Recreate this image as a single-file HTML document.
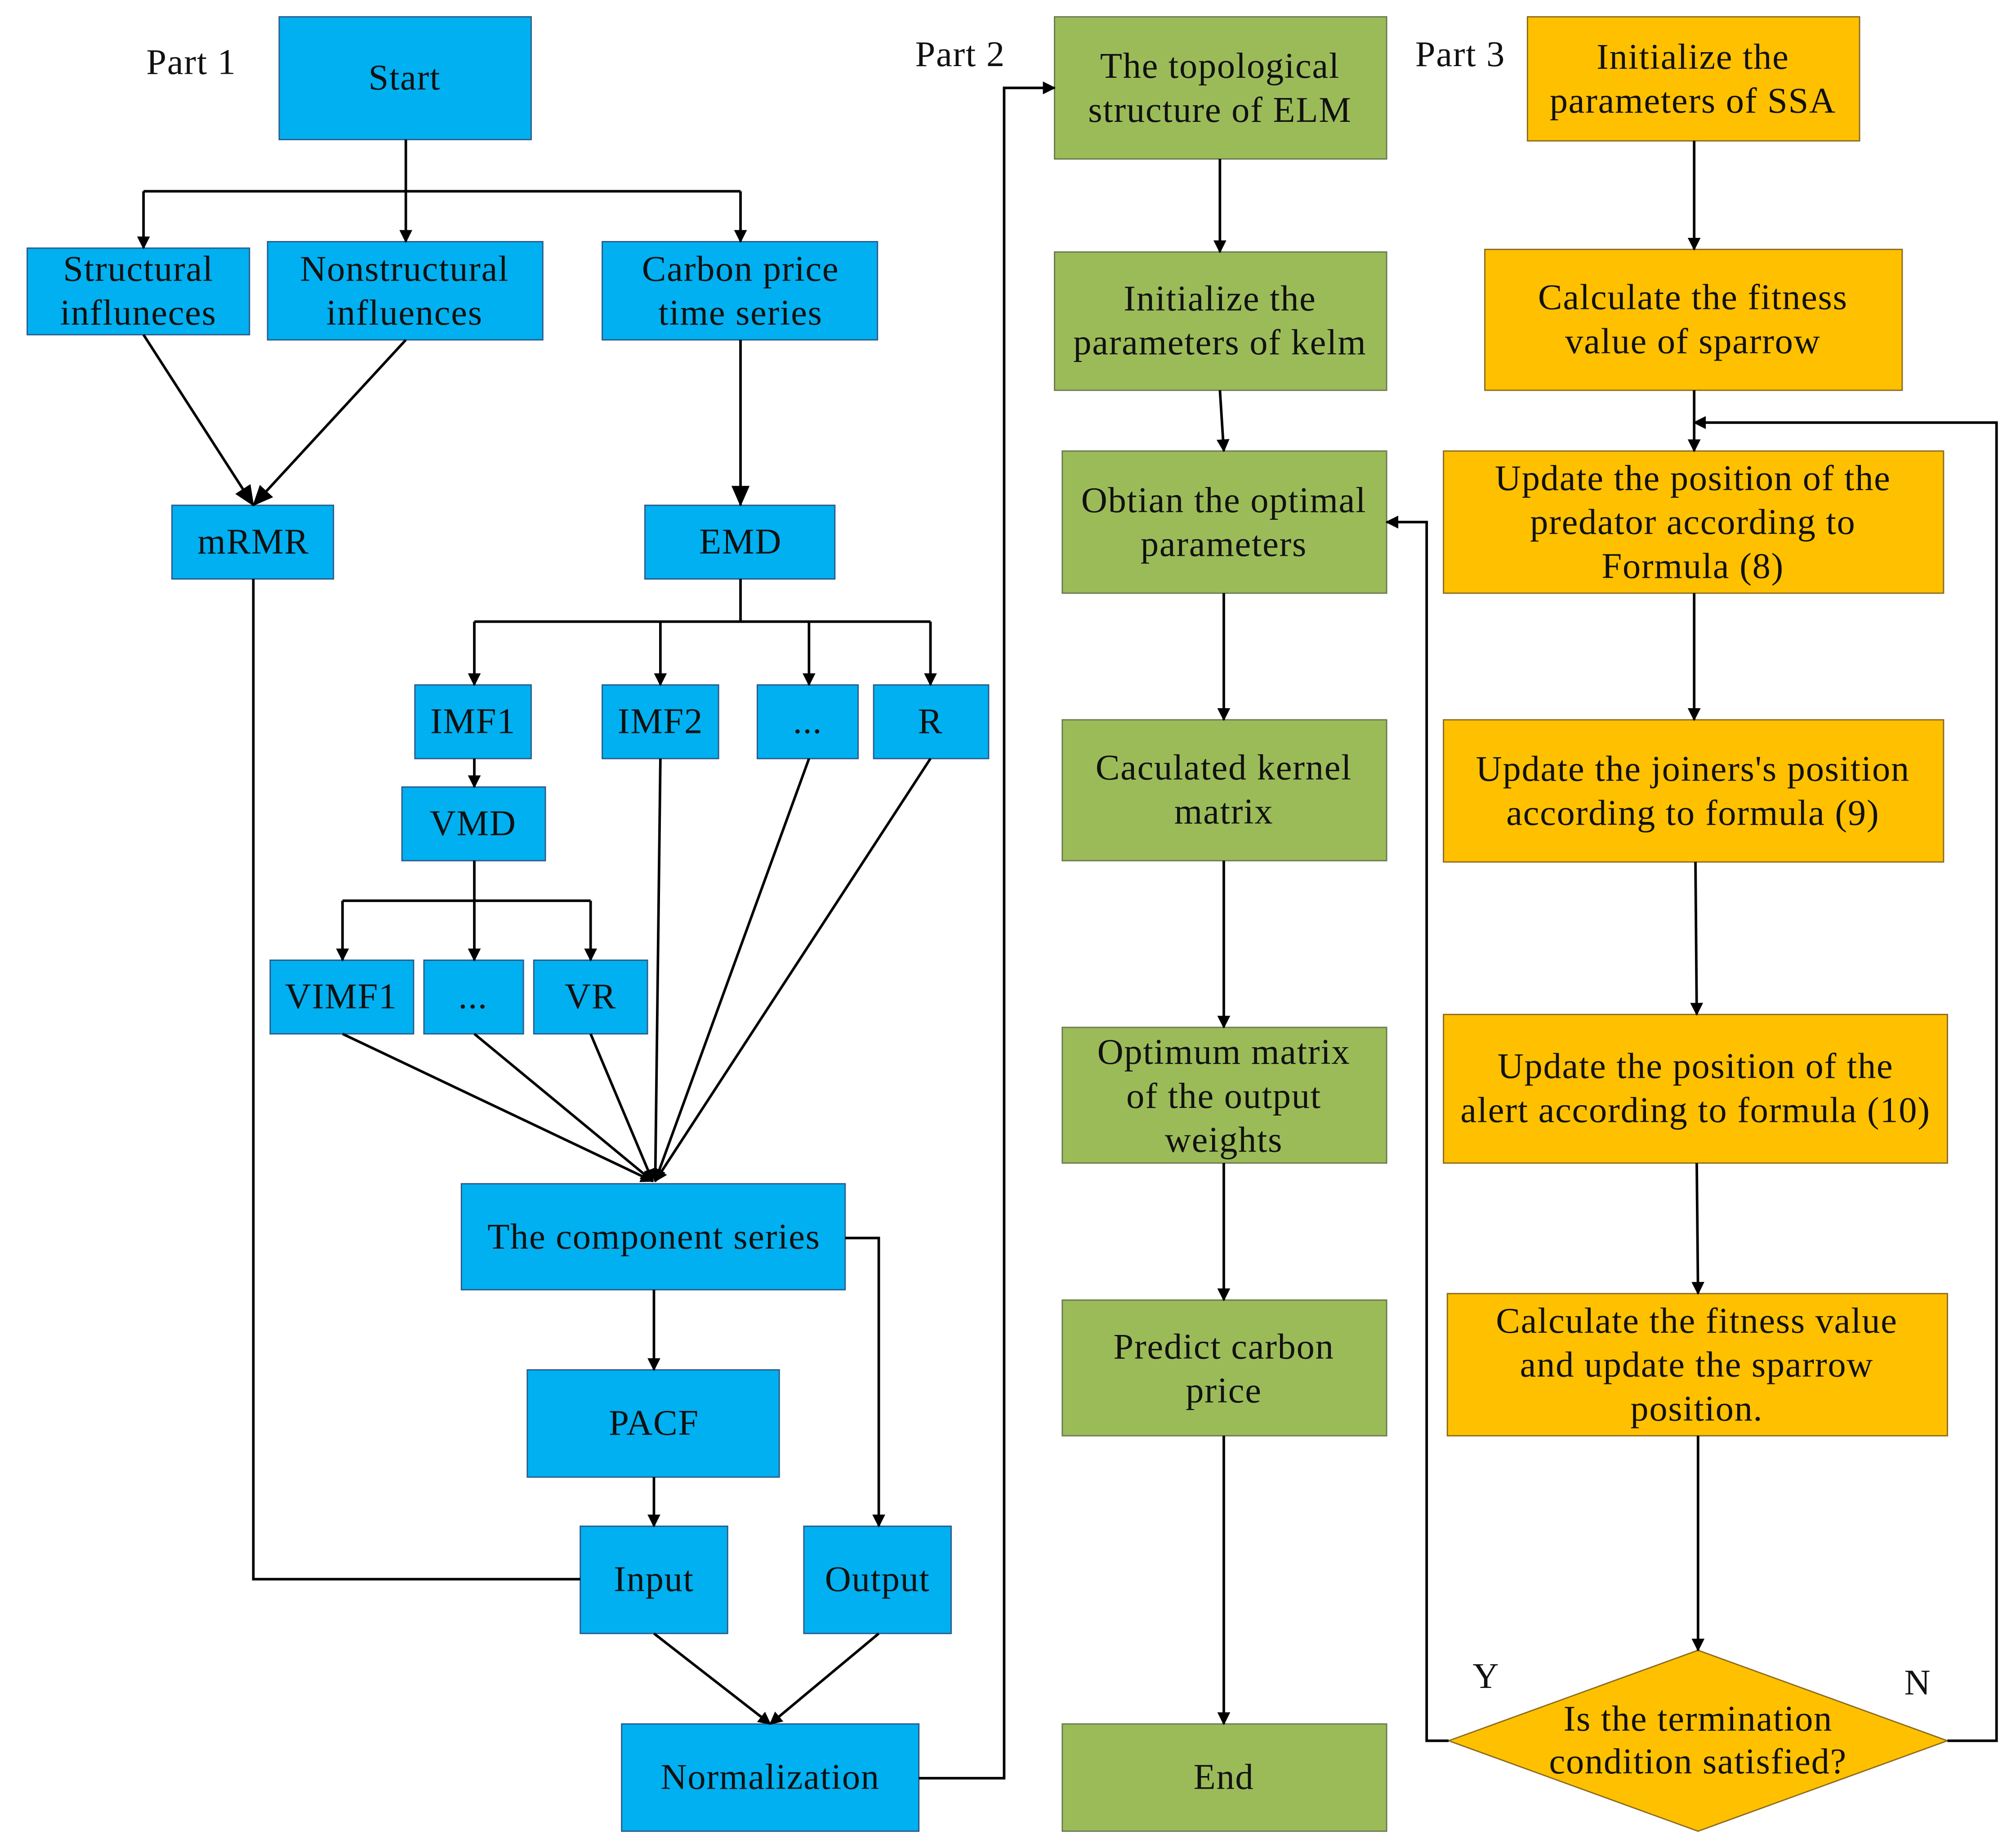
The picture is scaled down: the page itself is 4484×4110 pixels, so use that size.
<!DOCTYPE html>
<html><head><meta charset="utf-8"><style>
html,body{margin:0;padding:0;background:#fff;}
svg{display:block;}
text{font-family:"Liberation Serif",serif;font-size:28px;letter-spacing:0.6px;fill:#111;text-anchor:middle;dominant-baseline:central;}
.b{fill:#00B0F0;stroke:#2a5a8a;stroke-width:1;}
.g{fill:#9BBB59;stroke:#6a7a50;stroke-width:1;}
.o{fill:#FFC000;stroke:#8a6a20;stroke-width:1;}
.l{fill:none;stroke:#000;stroke-width:2;}
</style></head><body>
<svg width="4484" height="4110" viewBox="0 0 1560 1430" xmlns="http://www.w3.org/2000/svg">
<defs><marker id="a" markerWidth="10" markerHeight="10" refX="9" refY="5" orient="auto" markerUnits="userSpaceOnUse"><path d="M0,0 L10,5 L0,10 z" fill="#000"/></marker>
<marker id="A" markerWidth="16" markerHeight="14" refX="15" refY="7" orient="auto" markerUnits="userSpaceOnUse"><path d="M0,0 L16,7 L0,14 z" fill="#000"/></marker></defs>
<rect width="1560" height="1430" fill="#fff"/>
<rect class="b" x="216" y="13" width="195" height="95"/><text x="313" y="60">Start</text>
<rect class="b" x="21" y="192" width="172" height="67"/><text x="107" y="208">Structural</text><text x="107" y="242">influneces</text>
<rect class="b" x="207" y="187" width="213" height="76"/><text x="313" y="208">Nonstructural</text><text x="313" y="242">influences</text>
<rect class="b" x="466" y="187" width="213" height="76"/><text x="573" y="208">Carbon price</text><text x="573" y="242">time series</text>
<rect class="b" x="133" y="391" width="125" height="57"/><text x="196" y="419">mRMR</text>
<rect class="b" x="499" y="391" width="147" height="57"/><text x="573" y="419">EMD</text>
<rect class="b" x="321" y="530" width="90" height="57"/><text x="366" y="558">IMF1</text>
<rect class="b" x="466" y="530" width="90" height="57"/><text x="511" y="558">IMF2</text>
<rect class="b" x="586" y="530" width="78" height="57"/><text x="625" y="558">...</text>
<rect class="b" x="676" y="530" width="89" height="57"/><text x="720" y="558">R</text>
<rect class="b" x="311" y="609" width="111" height="57"/><text x="366" y="637">VMD</text>
<rect class="b" x="209" y="743" width="111" height="57"/><text x="264" y="771">VIMF1</text>
<rect class="b" x="328" y="743" width="77" height="57"/><text x="366" y="771">...</text>
<rect class="b" x="413" y="743" width="88" height="57"/><text x="457" y="771">VR</text>
<rect class="b" x="357" y="916" width="297" height="82"/><text x="506" y="957">The component series</text>
<rect class="b" x="408" y="1060" width="195" height="83"/><text x="506" y="1101">PACF</text>
<rect class="b" x="449" y="1181" width="114" height="83"/><text x="506" y="1222">Input</text>
<rect class="b" x="622" y="1181" width="114" height="83"/><text x="679" y="1222">Output</text>
<rect class="b" x="481" y="1334" width="230" height="83"/><text x="596" y="1375">Normalization</text>
<rect class="g" x="816" y="13" width="257" height="110"/><text x="944" y="51">The topological</text><text x="944" y="85">structure of ELM</text>
<rect class="g" x="816" y="195" width="257" height="107"/><text x="944" y="231">Initialize the</text><text x="944" y="265">parameters of kelm</text>
<rect class="g" x="822" y="349" width="251" height="110"/><text x="947" y="387">Obtian the optimal</text><text x="947" y="421">parameters</text>
<rect class="g" x="822" y="557" width="251" height="109"/><text x="947" y="594">Caculated kernel</text><text x="947" y="628">matrix</text>
<rect class="g" x="822" y="795" width="251" height="105"/><text x="947" y="814">Optimum matrix</text><text x="947" y="848">of the output</text><text x="947" y="882">weights</text>
<rect class="g" x="822" y="1006" width="251" height="105"/><text x="947" y="1042">Predict carbon</text><text x="947" y="1076">price</text>
<rect class="g" x="822" y="1334" width="251" height="83"/><text x="947" y="1375">End</text>
<rect class="o" x="1182" y="13" width="257" height="96"/><text x="1310" y="44">Initialize the</text><text x="1310" y="78">parameters of SSA</text>
<rect class="o" x="1149" y="193" width="323" height="109"/><text x="1310" y="230">Calculate the fitness</text><text x="1310" y="264">value of sparrow</text>
<rect class="o" x="1117" y="349" width="387" height="110"/><text x="1310" y="370">Update the position of the</text><text x="1310" y="404">predator according to</text><text x="1310" y="438">Formula (8)</text>
<rect class="o" x="1117" y="557" width="387" height="110"/><text x="1310" y="595">Update the joiners's position</text><text x="1310" y="629">according to formula (9)</text>
<rect class="o" x="1117" y="785" width="390" height="115"/><text x="1312" y="825">Update the position of the</text><text x="1312" y="859">alert according to formula (10)</text>
<rect class="o" x="1120" y="1001" width="387" height="110"/><text x="1313" y="1022">Calculate the fitness value</text><text x="1313" y="1056">and update the sparrow</text><text x="1313" y="1090">position.</text>
<polygon class="o" points="1314,1277 1507,1347 1314,1417 1121,1347"/><text x="1314" y="1330">Is the termination</text><text x="1314" y="1363">condition satisfied?</text>
<text x="148" y="48">Part 1</text><text x="743" y="42">Part 2</text><text x="1130" y="42">Part 3</text>
<text x="1150" y="1297">Y</text><text x="1484" y="1302">N</text>
<path class="l" d="M314,108V148M111,148H573"/>
<path class="l" marker-end="url(#a)" d="M111,148V192"/><path class="l" marker-end="url(#a)" d="M314,148V187"/><path class="l" marker-end="url(#a)" d="M573,148V187"/>
<path class="l" marker-end="url(#A)" d="M111,259L196,391"/><path class="l" marker-end="url(#A)" d="M314,263L196,391"/>
<path class="l" marker-end="url(#A)" d="M573,263V391"/>
<path class="l" d="M196,448V1222H449"/>
<path class="l" d="M573,448V481M367,481H720"/>
<path class="l" marker-end="url(#a)" d="M367,481V530"/><path class="l" marker-end="url(#a)" d="M511,481V530"/><path class="l" marker-end="url(#a)" d="M626,481V530"/><path class="l" marker-end="url(#a)" d="M720,481V530"/>
<path class="l" marker-end="url(#a)" d="M367,587V609"/>
<path class="l" d="M367,666V697M265,697H457"/>
<path class="l" marker-end="url(#a)" d="M265,697V743"/><path class="l" marker-end="url(#a)" d="M367,697V743"/><path class="l" marker-end="url(#a)" d="M457,697V743"/>
<path class="l" marker-end="url(#a)" d="M265,800L505,914"/><path class="l" marker-end="url(#a)" d="M367,800L505,914"/><path class="l" marker-end="url(#a)" d="M457,800L505,914"/>
<path class="l" marker-end="url(#a)" d="M511,587L507,914"/><path class="l" marker-end="url(#a)" d="M626,587L507,914"/><path class="l" marker-end="url(#a)" d="M720,587L507,914"/>
<path class="l" marker-end="url(#a)" d="M506,998V1060"/>
<path class="l" marker-end="url(#a)" d="M654,958H680V1181"/>
<path class="l" marker-end="url(#a)" d="M506,1143V1181"/>
<path class="l" marker-end="url(#a)" d="M506,1264L596,1334"/><path class="l" marker-end="url(#a)" d="M680,1264L596,1334"/>
<path class="l" marker-end="url(#a)" d="M711,1376H777V68H816"/>
<path class="l" marker-end="url(#a)" d="M944,123V195"/><path class="l" marker-end="url(#a)" d="M944,302L947,349"/><path class="l" marker-end="url(#a)" d="M947,459V557"/><path class="l" marker-end="url(#a)" d="M947,666V795"/><path class="l" marker-end="url(#a)" d="M947,900V1006"/><path class="l" marker-end="url(#a)" d="M947,1111V1334"/>
<path class="l" marker-end="url(#a)" d="M1311,109V193"/><path class="l" marker-end="url(#a)" d="M1311,302V349"/><path class="l" marker-end="url(#a)" d="M1311,459V557"/><path class="l" marker-end="url(#a)" d="M1312,667L1313,785"/><path class="l" marker-end="url(#a)" d="M1313,900L1314,1001"/><path class="l" marker-end="url(#a)" d="M1314,1111V1277"/>
<path class="l" marker-end="url(#a)" d="M1121,1347H1104V404H1073"/>
<path class="l" marker-end="url(#a)" d="M1507,1347H1545V327H1311"/>
</svg>
</body></html>
